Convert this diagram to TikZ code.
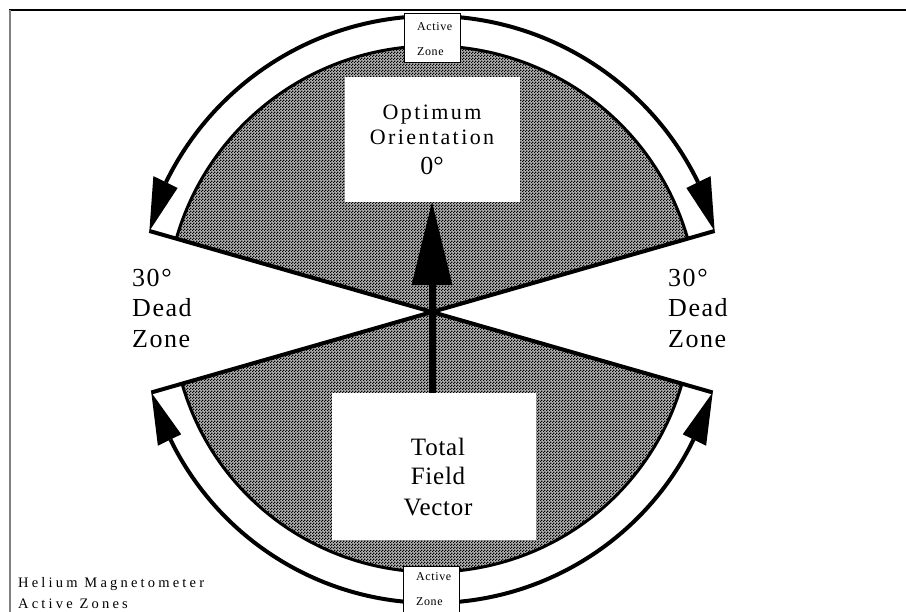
\documentclass[tikz,border=0pt]{standalone}
\usepackage{fontspec}
\setmainfont{Liberation Serif}
\newfontfamily\optfont[LetterSpace=11]{Liberation Serif}
\newfontfamily\totfont[LetterSpace=3]{Liberation Serif}
\newfontfamily\deadfont[LetterSpace=6]{Liberation Serif}
\newfontfamily\azfont[LetterSpace=5]{Liberation Serif}
\newfontfamily\capfont[LetterSpace=22]{Liberation Serif}
\usetikzlibrary{patterns,arrows.meta,calc}
\pgfdeclarepatternformonly{finecheck}{\pgfqpoint{0pt}{0pt}}{\pgfqpoint{3pt}{3pt}}{\pgfqpoint{3pt}{3pt}}{%
  \pgfpathrectangle{\pgfqpoint{0pt}{0pt}}{\pgfqpoint{1.5pt}{1.5pt}}%
  \pgfpathrectangle{\pgfqpoint{1.5pt}{1.5pt}}{\pgfqpoint{1.5pt}{1.5pt}}%
  \pgfusepath{fill}}
\begin{document}
\begin{tikzpicture}[x=1pt,y=1pt,
  sectorfill/.style={preaction={fill=black!30}, pattern=finecheck},
  sectoredge/.style={line width=3pt},
  edgeline/.style={line width=4pt},
  bandarc/.style={line width=4pt},
  whitebox/.style={fill=white, draw=none, inner sep=0pt},
  azbox/.style={fill=white, draw=black, line width=0.8pt, inner sep=0pt, minimum width=56pt, minimum height=49pt},
  lbl/.style={inner sep=0pt, anchor=base west},
  ctr/.style={inner sep=0pt, anchor=base},
  optlbl/.style={ctr, font=\optfont\fontsize{22}{26}\selectfont},
  totlbl/.style={ctr, font=\totfont\fontsize{25}{30}\selectfont},
  deadlbl/.style={lbl, font=\deadfont\fontsize{26}{30}\selectfont},
  azlbl/.style={lbl, font=\azfont\fontsize{12}{14}\selectfont},
  caplbl/.style={lbl, font=\capfont\fontsize{14.5}{16}\selectfont}
]
\useasboundingbox (0,-612) rectangle (906,0);
\coordinate (C) at (432,-312);

% frame
\draw[line width=2pt] (9,-10) -- (906,-10);
\draw[gray, line width=2pt] (10,-10) -- (10,-612);

% shaded sectors
\fill[sectorfill] (C) -- ($(C)+(16:266)$) arc[start angle=16,end angle=164,radius=266] -- cycle;
\fill[sectorfill] (C) -- ($(C)+(196:260)$) arc[start angle=196,end angle=344,radius=260] -- cycle;
\draw[sectoredge] ($(C)+(16:266)$) arc[start angle=16,end angle=164,radius=266];
\draw[sectoredge] ($(C)+(196:260)$) arc[start angle=196,end angle=344,radius=260];

% radial lines (X)
\draw[edgeline] ($(C)+(164:294)$) -- ($(C)+(-16:292)$);
\draw[edgeline] ($(C)+(16:294)$) -- ($(C)+(196:292)$);

% outer arcs with arrowheads
\draw[bandarc] ($(C)+(90:296)$) arc[start angle=90,end angle=26,radius=296];
\draw[bandarc] ($(C)+(90:296)$) arc[start angle=90,end angle=154,radius=296];
\draw[bandarc] ($(C)+(270:291)$) arc[start angle=270,end angle=334,radius=291];
\draw[bandarc] ($(C)+(270:291)$) arc[start angle=270,end angle=206,radius=291];
\fill ($(C)+(26:283)$) -- ($(C)+(26:310)$) -- ($(C)+(16:294)$) -- cycle;
\fill ($(C)+(154:283)$) -- ($(C)+(154:310)$) -- ($(C)+(164:294)$) -- cycle;
\fill ($(C)+(-26:279)$) -- ($(C)+(-26:305)$) -- ($(C)+(-16:292)$) -- cycle;
\fill ($(C)+(206:279)$) -- ($(C)+(206:305)$) -- ($(C)+(196:292)$) -- cycle;

% boxes
\node[whitebox, minimum width=175pt, minimum height=125pt] (opt) at (432,-139.5) {};
\node[whitebox, minimum width=204pt, minimum height=147pt] (tot) at (434,-466.5) {};
\node[azbox] (aztop) at (432,-37.5) {};
\node[azbox, minimum height=50pt] (azbot) at (431.5,-591) {};

% vertical arrow
\draw[line width=7pt, -{Triangle[length=83pt,width=41pt,line width=0pt]}] (tot.north -| opt.south) -- (opt.south);

% texts in boxes
\node[optlbl] (t1) at (432,-120) {Optimum};
\node[optlbl] (t2) at (432,-145) {Orientation};
\node[ctr, font=\fontsize{26}{30}\selectfont] (t3) at (432,-175) {0°};
\node[totlbl] (t4) at (438,-456) {Total};
\node[totlbl] (t5) at (438,-485) {Field};
\node[totlbl] (t6) at (438,-515) {Vector};
\node[azlbl] (a1) at (417,-31) {Active};
\node[azlbl] (a2) at (417,-56) {Zone};
\node[azlbl] (a3) at (416,-580) {Active};
\node[azlbl] (a4) at (416,-605) {Zone};

% dead zone labels
\node[deadlbl] (d1) at (132,-287) {30°};
\node[deadlbl] (d2) at (132,-317) {Dead};
\node[deadlbl] (d3) at (132,-348) {Zone};
\node[deadlbl] (d4) at (668,-287) {30°};
\node[deadlbl] (d5) at (668,-317) {Dead};
\node[deadlbl] (d6) at (668,-348) {Zone};

% caption
\node[caplbl] (c1) at (18,-587) {Helium Magnetometer};
\node[caplbl] (c2) at (18,-608) {Active Zones};
\end{tikzpicture}
\end{document}
